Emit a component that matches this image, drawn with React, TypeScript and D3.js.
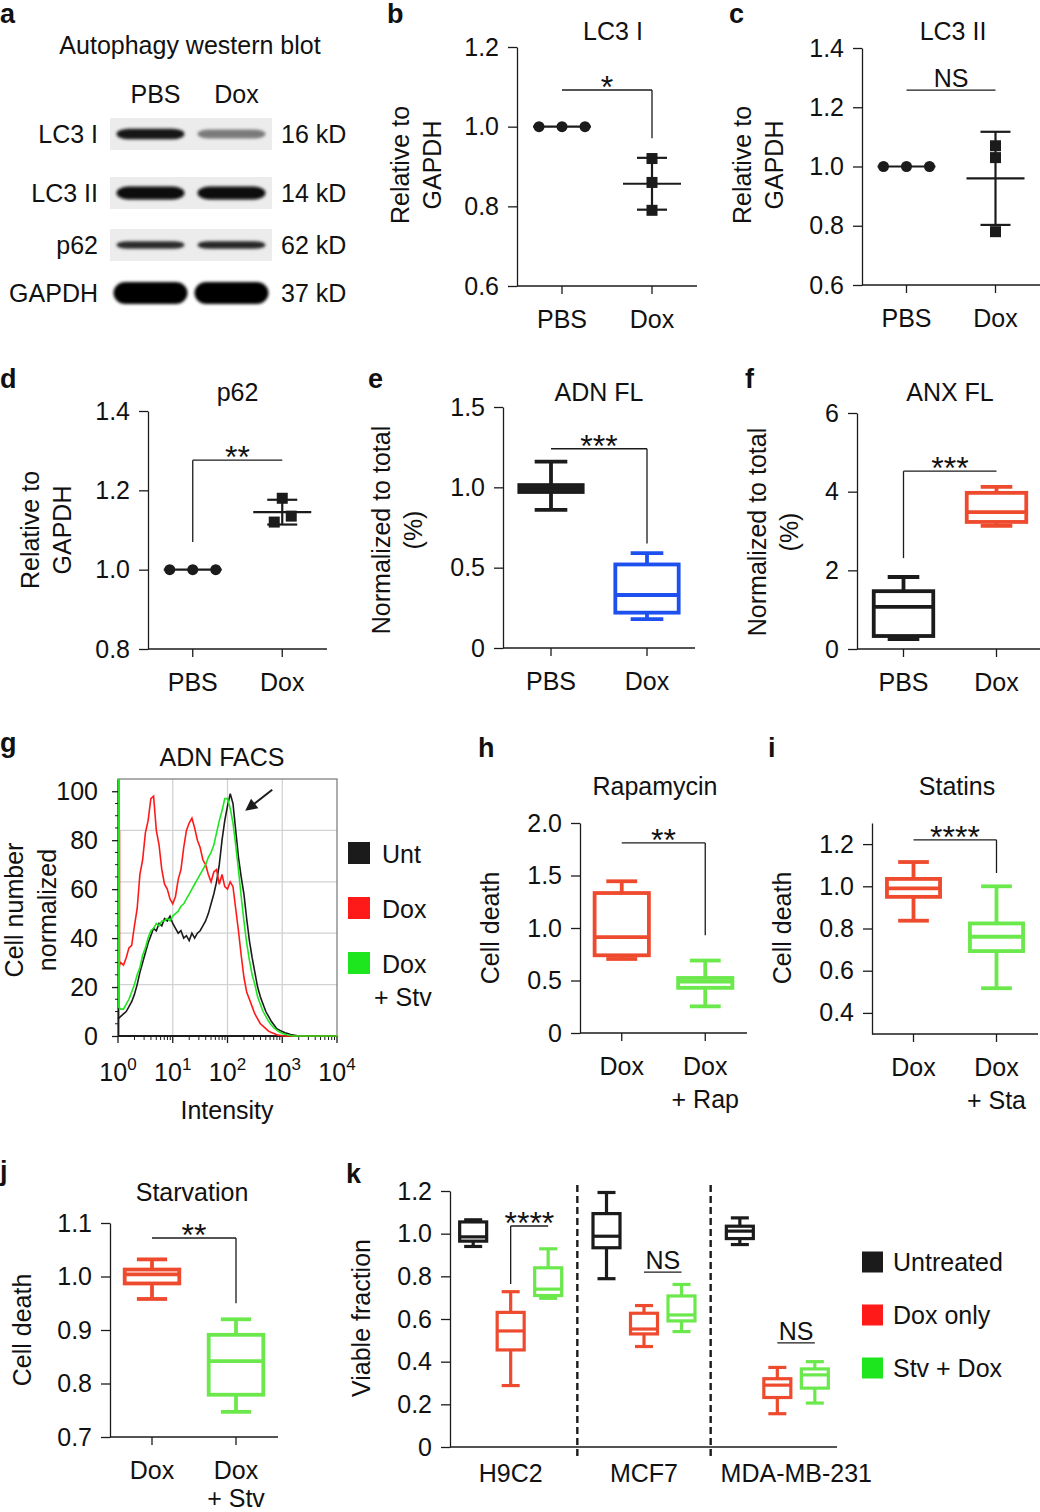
import { useEffect, useRef } from 'react';
import * as d3 from 'd3';

const W = 1040;
const H = 1512;
const FONT = "'Liberation Sans', Arial, Helvetica, sans-serif";
const FS = 25;
const INK = '#1b1b1b';
const BOX_RED = '#ee4a2d';
const BOX_GREEN = '#6be84c';
const BOX_BLUE = '#1e50f0';
const FACS_RED = '#ff1a1a';
const FACS_GREEN = '#1ee61e';

// ---------- a: western blot (band darkness 0..1) ----------
const blotRows = ['LC3 I', 'LC3 II', 'p62', 'GAPDH'];
const blotKd = ['16 kD', '14 kD', '62 kD', '37 kD'];
const blotLanes = ['PBS', 'Dox'];
const blotPbs = [0.93, 0.96, 0.86, 1.0];
const blotDox = [0.6, 0.97, 0.88, 1.0];

// ---------- b, c, d: relative to GAPDH, n = 3 ----------
const pairCats = [['PBS'], ['Dox']];
const lc3iPbs = [1.0, 1.0, 1.0];
const lc3iDox = [0.92, 0.86, 0.79];
const lc3iiPbs = [1.0, 1.0, 1.0];
const lc3iiDox = [1.07, 1.03, 0.78];
const p62Pbs = [1.0, 1.0, 1.0];
const p62Dox = [1.18, 1.135, 1.12];

// ---------- box plots: [min, q1, median, q3, max] ----------
const adnPbs = [0.86, 0.971, 0.99, 1.014, 1.16];
const adnDox = [0.18, 0.22, 0.33, 0.52, 0.59];
const anxPbs = [0.25, 0.33, 1.07, 1.47, 1.83];
const anxDox = [3.13, 3.23, 3.48, 3.97, 4.12];
const rapDox = [0.705, 0.74, 0.914, 1.333, 1.445];
const rapDoxRap = [0.254, 0.43, 0.49, 0.524, 0.69];
const staDox = [0.837, 0.95, 0.99, 1.035, 1.115];
const staDoxSta = [0.517, 0.693, 0.761, 0.824, 1.0];
const stvDox = [0.958, 0.987, 1.004, 1.013, 1.032];
const stvDoxStv = [0.747, 0.779, 0.842, 0.891, 0.92];

// ---------- g: ADN FACS, one value per 0.05 decade starting at 10^0 ----------
const facsStep = 0.05;
const facsUnt = [7, 8, 9, 10, 12, 14, 17, 21, 26, 30, 34, 38, 41, 44, 43, 46, 45, 48, 47, 49,
  46, 44, 42, 43, 40, 41, 39, 42, 40, 42, 43, 45, 47, 50, 54, 58, 63, 70, 80, 88,
  94, 99, 95, 84, 73, 65, 58, 48, 39, 32, 26, 20, 16, 13, 10, 8, 6, 4.5, 3, 2.4,
  1.8, 1.3, 1, 0.6, 0.4, 0.2, 0];
const facsDox = [28, 30, 29, 32, 36, 37, 45, 52, 66, 72, 83, 88, 97, 98, 84, 78, 68, 62, 60, 56,
  54, 57, 64, 68, 77, 84, 87, 89, 85, 80, 77, 72, 70, 66, 63, 67, 68, 62, 66, 61,
  60, 63, 61, 52, 43, 33, 24, 18, 15, 12, 9, 7, 5, 4, 3, 2, 1.4, 1, 0.5, 0.3, 0.1, 0];
const facsDoxStv = [12, 11, 11, 13, 15, 18, 21, 25, 28, 33, 36, 40, 43, 44, 46, 45, 47, 47, 48, 47,
  49, 50, 51, 53, 54, 56, 58, 60, 62, 64, 66, 68, 70, 73, 75, 78, 83, 88, 92, 97,
  97, 93, 87, 78, 68, 57, 47, 38, 31, 25, 21, 16, 13, 10, 8, 6, 4.5, 3.3, 2.4, 1.6,
  1.1, 0.7, 0.4, 0.2, 0];
const facsFirstBinDox = 84;
const facsFirstBinDoxStv = 105;
const facsLegend = [['Unt'], ['Dox'], ['Dox', '+ Stv']];

// ---------- k: viable fraction, [min, q1, median, q3, max] per cell line ----------
const cellLines = ['H9C2', 'MCF7', 'MDA-MB-231'];
const kGroups = ['Untreated', 'Dox only', 'Stv + Dox'];
const viabUnt = [[0.94, 0.965, 0.985, 1.055, 1.065], [0.789, 0.934, 0.988, 1.094, 1.193], [0.949, 0.977, 1.012, 1.035, 1.074]];
const viabDox = [[0.288, 0.455, 0.544, 0.631, 0.728], [0.471, 0.53, 0.553, 0.627, 0.663], [0.156, 0.232, 0.29, 0.32, 0.373]];
const viabStvDox = [[0.697, 0.71, 0.74, 0.84, 0.929], [0.541, 0.591, 0.619, 0.708, 0.762], [0.206, 0.276, 0.338, 0.366, 0.4]];

const f1 = d3.format('.1f');
const f0or1 = (d: number) => (d === 0 ? '0' : f1(d));

type G = any;

const txt = (g: G, x: number, y: number, s: string, anchor = 'middle', size = FS, weight = 'normal') =>
  g.append('text')
    .attr('x', x).attr('y', y)
    .attr('text-anchor', anchor)
    .attr('font-family', FONT)
    .attr('font-size', size)
    .attr('font-weight', weight)
    .attr('fill', '#111')
    .text(s);

const vtxt = (g: G, cx: number, cy: number, s: string) =>
  g.append('text')
    .attr('transform', `translate(${cx},${cy}) rotate(-90)`)
    .attr('dy', '0.35em')
    .attr('text-anchor', 'middle')
    .attr('font-family', FONT)
    .attr('font-size', FS)
    .attr('fill', '#111')
    .text(s);

const seg = (g: G, x1: number, y1: number, x2: number, y2: number, color = INK, w = 1.3) =>
  g.append('line')
    .attr('x1', x1).attr('y1', y1).attr('x2', x2).attr('y2', y2)
    .attr('stroke', color).attr('stroke-width', w);

function styleAxis(ax: G) {
  ax.attr('font-family', FONT).attr('font-size', FS);
  ax.select('.domain').attr('stroke', INK).attr('stroke-width', 1.3);
  ax.selectAll('.tick line').attr('stroke', INK).attr('stroke-width', 1.3);
  ax.selectAll('.tick text').attr('fill', '#111');
}

interface Spec {
  letter: string; lx: number; ly: number;
  title: string; tx?: number; ty: number;
  x0: number; x1: number; yb: number; yt: number;
  domain: [number, number]; ticks: number[];
  fmt: (d: number) => string;
  cats: string[][];
  lineGap?: number;
  ylab: string[]; yx: number; yy: number;
}

function panel(svg: G, s: Spec) {
  const g = svg.append('g');
  const x = d3.scalePoint<number>().domain(d3.range(s.cats.length)).range([s.x0, s.x1]).padding(0.5);
  const y = d3.scaleLinear().domain(s.domain).range([s.yb, s.yt]);
  const ax = g.append('g')
    .attr('transform', `translate(${s.x0},0)`)
    .call(d3.axisLeft(y).tickValues(s.ticks).tickFormat(s.fmt as any).tickSize(9).tickPadding(9).tickSizeOuter(0));
  styleAxis(ax);
  seg(g, s.x0, s.yb, s.x1, s.yb);
  s.cats.forEach((lines, i) => {
    const cx = x(i)!;
    seg(g, cx, s.yb, cx, s.yb + 8);
    lines.forEach((l, j) => txt(g, cx, s.yb + 42 + j * (s.lineGap ?? 33), l));
  });
  txt(g, s.tx ?? (s.x0 + s.x1) / 2, s.ty, s.title);
  txt(g, s.lx, s.ly, s.letter, 'start', 27, 'bold');
  s.ylab.forEach((l, j) => vtxt(g, s.yx + j * 32, s.yy, l));
  return { g, x: (i: number) => x(i)!, y, step: x.step() };
}

function dots(g: G, cx: number, vals: number[], y: any, kind: string, jitter = [0, 0, 0]) {
  const m = d3.mean(vals)!;
  const sd = d3.deviation(vals) ?? 0;
  if (sd > 0.001) {
    seg(g, cx, y(m - sd), cx, y(m + sd), INK, 2.2);
    seg(g, cx - 15, y(m + sd), cx + 15, y(m + sd), INK, 2.2);
    seg(g, cx - 15, y(m - sd), cx + 15, y(m - sd), INK, 2.2);
  }
  seg(g, cx - 29, y(m), cx + 29, y(m), INK, 2.2);
  vals.forEach((v, i) => {
    if (kind === 'circle') {
      g.append('circle').attr('cx', cx + (i - 1) * 23).attr('cy', y(v)).attr('r', 5.5).attr('fill', INK);
    } else {
      g.append('rect').attr('x', cx + jitter[i] - 5.5).attr('y', y(v) - 5.5)
        .attr('width', 11).attr('height', 11).attr('fill', INK);
    }
  });
}

function box(g: G, cx: number, w: number, cap: number, s: number[], y: any, color: string, sw = 3.8) {
  const [lo, q1, md, q3, hi] = s;
  seg(g, cx, y(hi), cx, y(q3), color, sw);
  seg(g, cx, y(q1), cx, y(lo), color, sw);
  seg(g, cx - cap / 2, y(hi), cx + cap / 2, y(hi), color, sw);
  seg(g, cx - cap / 2, y(lo), cx + cap / 2, y(lo), color, sw);
  g.append('rect')
    .attr('x', cx - w / 2).attr('y', y(q3))
    .attr('width', w).attr('height', y(q1) - y(q3))
    .attr('fill', '#fff').attr('stroke', color).attr('stroke-width', sw);
  seg(g, cx - w / 2, y(md), cx + w / 2, y(md), color, sw);
}

function bracket(g: G, xa: number, xb: number, yl: number, dropA: number | null, dropB: number | null, label: string) {
  if (dropA !== null) seg(g, xa, dropA, xa, yl);
  seg(g, xa, yl, xb, yl);
  if (dropB !== null) seg(g, xb, yl, xb, dropB);
  if (label === 'NS') txt(g, (xa + xb) / 2, yl - 3, 'NS');
  else txt(g, (xa + xb) / 2, yl + 8, label, 'middle', 32);
}

function drawBlot(svg: G) {
  const g = svg.append('g');
  const defs = svg.append('defs');
  defs.append('filter').attr('id', 'bandBlur')
    .attr('x', '-20%').attr('y', '-60%').attr('width', '140%').attr('height', '220%')
    .append('feGaussianBlur').attr('stdDeviation', 1.8);

  const lane = d3.scalePoint<string>().domain(blotLanes).range([110, 272]).padding(0.5);
  // lane-strip centres as they sit in the figure
  const row = d3.scaleOrdinal<string, number>().domain(blotRows).range([134, 193, 245, 293]);
  const bandPx = [11, 13, 8, 22];

  txt(g, 0, 23, 'a', 'start', 27, 'bold');
  txt(g, 190, 54, 'Autophagy western blot');
  blotLanes.forEach(l => txt(g, lane(l)! + 5, 103, l));

  blotRows.forEach((r, i) => {
    const cy = row(r);
    if (i < 3) {
      g.append('rect').attr('x', 110).attr('y', cy - 16).attr('width', 162).attr('height', 32).attr('fill', '#ececec');
    }
    [blotPbs[i], blotDox[i]].forEach((v, j) => {
      const cx = lane(blotLanes[j])!;
      const h = bandPx[i] * (0.55 + 0.45 * v);
      const bw = i === 3 ? 74 : 68;
      g.append('rect')
        .attr('x', cx - bw / 2).attr('y', cy - h / 2)
        .attr('width', bw).attr('height', h)
        .attr('rx', 12).attr('ry', h / 2)
        .attr('fill', d3.interpolateGreys(v))
        .attr('filter', 'url(#bandBlur)');
    });
    txt(g, 98, cy + 9, r, 'end');
    txt(g, 281, cy + 9, blotKd[i], 'start');
  });
}

function drawFacs(svg: G) {
  const g = svg.append('g');
  const fx = d3.scaleLog().domain([1, 1e4]).range([118, 337]);
  const fy = d3.scaleLinear().domain([0, 105]).range([1036, 779]);

  txt(g, 0, 752, 'g', 'start', 27, 'bold');
  txt(g, 222, 766, 'ADN FACS');

  [10, 100, 1000].forEach(v => seg(g, fx(v), 779, fx(v), 1036, '#d2d2d2', 1.3));
  [1, 2, 3, 4].forEach(k => seg(g, 118, fy(105 * k / 5), 337, fy(105 * k / 5), '#d2d2d2', 1.3));
  g.append('rect').attr('x', 118).attr('y', 779).attr('width', 219).attr('height', 257)
    .attr('fill', 'none').attr('stroke', '#777').attr('stroke-width', 1.2);

  // y axis
  const ax = g.append('g').attr('transform', 'translate(118,0)')
    .call(d3.axisLeft(fy).tickValues([0, 20, 40, 60, 80, 100]).tickSize(6).tickPadding(14).tickSizeOuter(0));
  styleAxis(ax);
  ax.select('.domain').attr('stroke-width', 1.8);
  d3.range(0, 101, 5).filter(v => v % 20 !== 0).forEach(v => seg(g, 115, fy(v), 118, fy(v), INK, 1));
  seg(g, 118, 1036, 337, 1036, INK, 1.8);

  // x axis, log decades with minor ticks
  d3.range(0, 5).forEach(p => {
    const xv = fx(10 ** p);
    seg(g, xv, 1036, xv, 1043, INK, 1.3);
    const t = txt(g, xv, 1081, '10');
    t.append('tspan').attr('dy', -11).attr('font-size', 17).text(String(p));
    if (p < 4) d3.range(2, 10).forEach(k => seg(g, fx(k * 10 ** p), 1036, fx(k * 10 ** p), 1040, INK, 1));
  });
  txt(g, 227, 1119, 'Intensity');
  vtxt(g, 14, 910, 'Cell number');
  vtxt(g, 47, 910, 'normalized');

  const line = d3.line<number[]>().x(d => fx(d[0])).y(d => fy(Math.min(d[1], 105)));
  const pts = (vals: number[]) => vals.map((v, i) => [10 ** (i * facsStep), v]).concat([[1e4, 0]]);
  const series: [number[], string][] = [[facsUnt, INK], [facsDox, FACS_RED], [facsDoxStv, FACS_GREEN]];
  series.forEach(([vals, c]) => {
    g.append('path').attr('d', line(pts(vals))).attr('fill', 'none').attr('stroke', c).attr('stroke-width', 1.6);
  });
  seg(g, fx(1) + 1.5, fy(facsFirstBinDox), fx(1) + 1.5, fy(facsDox[0]), FACS_RED, 1.6);
  seg(g, fx(1) + 1, fy(facsFirstBinDoxStv), fx(1) + 1, fy(facsDoxStv[0]), FACS_GREEN, 2);

  // arrow at the untreated peak
  const iPeak = d3.maxIndex(facsUnt);
  const tipX = fx(10 ** (iPeak * facsStep)) + 15;
  const tipY = fy(facsUnt[iPeak] - 7);
  const tailX = tipX + 27, tailY = tipY - 21;
  const len = Math.hypot(tailX - tipX, tailY - tipY);
  const ux = (tipX - tailX) / len, uy = (tipY - tailY) / len;
  seg(g, tailX, tailY, tipX - ux * 6, tipY - uy * 6, INK, 2);
  g.append('path')
    .attr('d', `M${tipX},${tipY}L${tipX - ux * 12 - uy * 6},${tipY - uy * 12 + ux * 6}L${tipX - ux * 12 + uy * 6},${tipY - uy * 12 - ux * 6}Z`)
    .attr('fill', INK);

  // legend
  const ly = d3.scalePoint<number>().domain([0, 1, 2]).range([853, 963]);
  const colors = [INK, FACS_RED, FACS_GREEN];
  facsLegend.forEach((lines, i) => {
    const cy = ly(i)!;
    g.append('rect').attr('x', 348).attr('y', cy - 11).attr('width', 22).attr('height', 22).attr('fill', colors[i]);
    lines.forEach((l, j) => txt(g, j === 0 ? 382 : 374, cy + 10 + j * 33, l, 'start'));
  });
}

function drawK(svg: G) {
  const g = svg.append('g');
  const kx = d3.scaleBand<string>().domain(cellLines).range([444, 844]);
  const sub = d3.scalePoint<string>().domain(kGroups).range([-37.5, 37.5]);
  const ky = d3.scaleLinear().domain([0, 1.2]).range([1447, 1191]);
  const colors = [INK, BOX_RED, BOX_GREEN];
  const data = [viabUnt, viabDox, viabStvDox];
  const labelShift = [0, 0, 19];

  txt(g, 346, 1183, 'k', 'start', 27, 'bold');
  const ax = g.append('g').attr('transform', 'translate(450,0)')
    .call(d3.axisLeft(ky).tickValues([0, 0.2, 0.4, 0.6, 0.8, 1.0, 1.2]).tickFormat(f0or1 as any).tickSize(9).tickPadding(9).tickSizeOuter(0));
  styleAxis(ax);
  seg(g, 450, 1447, 837, 1447);
  vtxt(g, 361, 1318, 'Viable fraction');

  cellLines.forEach((c, i) => {
    const cx = kx(c)! + kx.bandwidth() / 2;
    if (i > 0) seg(g, kx(c)!, 1185, kx(c)!, 1457, INK, 2.4).attr('stroke-dasharray', '7,4');
    txt(g, cx + labelShift[i], 1482, c);
    kGroups.forEach((k, j) => box(g, cx + sub(k)!, 27, 18, data[j][i], ky, colors[j], 3.2));
  });

  const c0 = kx(cellLines[0])! + kx.bandwidth() / 2;
  bracket(g, c0 + sub(kGroups[1])!, c0 + sub(kGroups[2])!, ky(1.036), ky(0.764), null, '****');
  const c1 = kx(cellLines[1])! + kx.bandwidth() / 2;
  bracket(g, c1 + sub(kGroups[1])!, c1 + sub(kGroups[2])!, ky(0.82), null, null, 'NS');
  const c2 = kx(cellLines[2])! + kx.bandwidth() / 2;
  bracket(g, c2 + sub(kGroups[1])!, c2 + sub(kGroups[2])!, ky(0.488), null, null, 'NS');

  const ly = d3.scalePoint<string>().domain(kGroups).range([1262, 1368]);
  const legendColors = [INK, FACS_RED, FACS_GREEN];
  kGroups.forEach((k, j) => {
    const cy = ly(k)!;
    g.append('rect').attr('x', 862).attr('y', cy - 10.5).attr('width', 21).attr('height', 21).attr('fill', legendColors[j]);
    txt(g, 893, cy + 9, k, 'start');
  });
}

export default function App() {
  const svgRef = useRef<SVGSVGElement>(null);

  useEffect(() => {
    const svg = d3.select(svgRef.current);
    svg.selectAll('*').remove();
    svg.append('rect').attr('width', W).attr('height', H).attr('fill', '#fff');

    drawBlot(svg);

    // b
    const pb = panel(svg, { letter: 'b', lx: 387, ly: 23, title: 'LC3 I', tx: 613, ty: 40, x0: 517, x1: 697, yb: 286, yt: 47,
      domain: [0.6, 1.2], ticks: [0.6, 0.8, 1.0, 1.2], fmt: f1, cats: pairCats, ylab: ['Relative to', 'GAPDH'], yx: 400, yy: 165 });
    dots(pb.g, pb.x(0), lc3iPbs, pb.y, 'circle');
    dots(pb.g, pb.x(1), lc3iDox, pb.y, 'square');
    bracket(pb.g, pb.x(0), pb.x(1), pb.y(1.092), null, pb.y(0.971), '*');

    // c
    const pc = panel(svg, { letter: 'c', lx: 729, ly: 23, title: 'LC3 II', tx: 953, ty: 40, x0: 862, x1: 1040, yb: 285, yt: 48,
      domain: [0.6, 1.4], ticks: [0.6, 0.8, 1.0, 1.2, 1.4], fmt: f1, cats: pairCats, ylab: ['Relative to', 'GAPDH'], yx: 742, yy: 165 });
    dots(pc.g, pc.x(0), lc3iiPbs, pc.y, 'circle');
    dots(pc.g, pc.x(1), lc3iiDox, pc.y, 'square');
    bracket(pc.g, pc.x(0), pc.x(1), pc.y(1.258), null, null, 'NS');

    // d
    const pd = panel(svg, { letter: 'd', lx: 0, ly: 388, title: 'p62', ty: 401, x0: 148, x1: 327, yb: 649, yt: 411,
      domain: [0.8, 1.4], ticks: [0.8, 1.0, 1.2, 1.4], fmt: f1, cats: pairCats, ylab: ['Relative to', 'GAPDH'], yx: 30, yy: 530 });
    dots(pd.g, pd.x(0), p62Pbs, pd.y, 'circle');
    dots(pd.g, pd.x(1), p62Dox, pd.y, 'square', [0, 9, -8]);
    bracket(pd.g, pd.x(0), pd.x(1), pd.y(1.276), pd.y(1.07), null, '**');

    // e
    const pe = panel(svg, { letter: 'e', lx: 368, ly: 388, title: 'ADN FL', ty: 401, x0: 503, x1: 695, yb: 648, yt: 407,
      domain: [0, 1.5], ticks: [0, 0.5, 1.0, 1.5], fmt: f0or1, cats: pairCats, ylab: ['Normalized to total', '(%)'], yx: 381, yy: 530 });
    box(pe.g, pe.x(0), pe.step * 0.66, pe.step * 0.34, adnPbs, pe.y, INK);
    box(pe.g, pe.x(1), pe.step * 0.66, pe.step * 0.34, adnDox, pe.y, BOX_BLUE);
    bracket(pe.g, pe.x(0), pe.x(1), pe.y(1.24), null, pe.y(0.65), '***');

    // f
    const pf = panel(svg, { letter: 'f', lx: 745, ly: 388, title: 'ANX FL', ty: 401, x0: 857, x1: 1043, yb: 649, yt: 413,
      domain: [0, 6], ticks: [0, 2, 4, 6], fmt: d3.format('d'), cats: pairCats, ylab: ['Normalized to total', '(%)'], yx: 757, yy: 532 });
    box(pf.g, pf.x(0), pf.step * 0.64, pf.step * 0.34, anxPbs, pf.y, INK);
    box(pf.g, pf.x(1), pf.step * 0.64, pf.step * 0.34, anxDox, pf.y, BOX_RED);
    bracket(pf.g, pf.x(0), pf.x(1), pf.y(4.52), pf.y(2.31), null, '***');

    // g
    drawFacs(svg);

    // h
    const ph = panel(svg, { letter: 'h', lx: 478, ly: 757, title: 'Rapamycin', tx: 655, ty: 795, x0: 580, x1: 747, yb: 1033, yt: 823,
      domain: [0, 2], ticks: [0, 0.5, 1.0, 1.5, 2.0], fmt: f0or1, cats: [['Dox'], ['Dox', '+ Rap']], ylab: ['Cell death'], yx: 490, yy: 928 });
    box(ph.g, ph.x(0), ph.step * 0.65, ph.step * 0.37, rapDox, ph.y, BOX_RED);
    box(ph.g, ph.x(1), ph.step * 0.65, ph.step * 0.37, rapDoxRap, ph.y, BOX_GREEN);
    bracket(ph.g, ph.x(0), ph.x(1), ph.y(1.81), null, ph.y(0.93), '**');

    // i
    const pi = panel(svg, { letter: 'i', lx: 768, ly: 757, title: 'Statins', tx: 957, ty: 795, x0: 872, x1: 1038, yb: 1034, yt: 823,
      domain: [0.3, 1.3], ticks: [0.4, 0.6, 0.8, 1.0, 1.2], fmt: f1, cats: [['Dox'], ['Dox', '+ Sta']], ylab: ['Cell death'], yx: 782, yy: 928 });
    box(pi.g, pi.x(0), pi.step * 0.64, pi.step * 0.37, staDox, pi.y, BOX_RED);
    box(pi.g, pi.x(1), pi.step * 0.64, pi.step * 0.37, staDoxSta, pi.y, BOX_GREEN);
    bracket(pi.g, pi.x(0), pi.x(1), pi.y(1.22), null, pi.y(1.063), '****');

    // j
    const pj = panel(svg, { letter: 'j', lx: 0, ly: 1180, title: 'Starvation', tx: 192, ty: 1201, x0: 110, x1: 278, yb: 1437, yt: 1223,
      domain: [0.7, 1.1], ticks: [0.7, 0.8, 0.9, 1.0, 1.1], fmt: f1, cats: [['Dox'], ['Dox', '+ Stv']], lineGap: 28, ylab: ['Cell death'], yx: 22, yy: 1330 });
    box(pj.g, pj.x(0), pj.step * 0.65, pj.step * 0.36, stvDox, pj.y, BOX_RED);
    box(pj.g, pj.x(1), pj.step * 0.65, pj.step * 0.36, stvDoxStv, pj.y, BOX_GREEN);
    bracket(pj.g, pj.x(0), pj.x(1), pj.y(1.072), null, pj.y(0.95), '**');

    // k
    drawK(svg);
  }, []);

  return (
    <svg
      ref={svgRef}
      width={W}
      height={H}
      style={{ position: 'absolute', left: 0, top: 0, display: 'block' }}
    />
  );
}
